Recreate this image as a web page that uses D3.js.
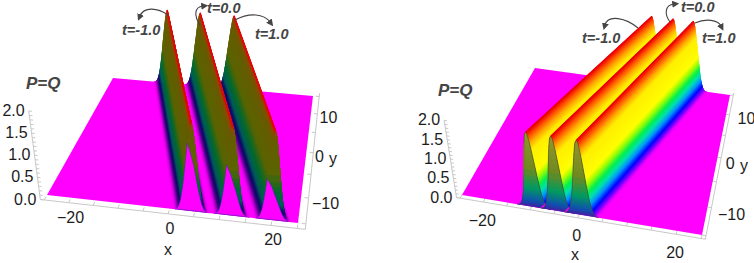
<!DOCTYPE html>
<html>
<head>
    <meta charset="UTF-8">
    <title>P=Q surfaces</title>
    <style>
        html, body { margin: 0; padding: 0; background: #fff; }
        svg { display: block; }
    </style>
</head>
<body>
    <div id="graph-container"></div>
    <script src="https://cdn.jsdelivr.net/npm/d3@7"></script>
    <script>
        // values
        const profileOffsets = [0, .125, .25, .375, .5, .625, .75, .875, 1, 1.125, 1.25, 1.375, 1.5, 1.6, 1.7, 1.8, 1.9, 2, 2.08, 2.16, 2.25, 2.35, 2.47, 2.55, 2.65, 2.78, 2.9, 3.05, 3.2, 3.6];
        const profileHeights = [1.95, 1.93, 1.89, 1.82, 1.72, 1.61, 1.49, 1.36, 1.23, 1.1, .97, .82, .72, .62, .53, .45, .38, .32, .27, .23, .19, .15, .11, .085, .065, .045, .03, .017, .01, 0];
        const timeLabels = ["t=-1.0", "t=0.0", "t=1.0"];
        const ridgeFrontLeft = [4.3, 12.2, 20.2];
        const ridgeBackLeft = [-11, -3.2, 4.8];
        const ridgeFrontRight = [-9.5, -4.5, 0.5];
        const ridgeBackRight = [5.8, 11, 15.8];
        const xTicks = [-20, 0, 20];
        const xMinorTicks = [-25, -20, -15, -10, -5, 0, 5, 10, 15, 20, 25];
        const yTicks = [-10, 0, 10];
        const yMinorTicks = [-15, -10, -5, 0, 5, 10, 15];
        const zTicks = [0, 0.5, 1, 1.5, 2];
        const zMinorTicks = [0, .1, .2, .3, .4, .5, .6, .7, .8, .9, 1, 1.1, 1.2, 1.3, 1.4, 1.5, 1.6, 1.7, 1.8, 1.9, 2];
        // the magenta arches under the three front ends of the left panel
        const archOffsets1 = [-3.2, -2.65, -2.47, -2.25, -2.08, -1.8, -1.6, -1.375, -1.125, -.875, -.75, -.2, .5, 1, 1.5, 2.05, 2.5, 3];
        const archHeights1 = [.01, .065, .11, .19, .27, .45, .62, .82, 1.1, 1.36, 1.49, 1.3, 1, .68, .4, .17, .05, .01];
        const archOffsets2 = [-3.2, -2.65, -2.47, -2.25, -2.08, -1.8, -1.6, -1.375, -1.125, -.3, .2, .8, 1.3, 1.8, 2.3, 2.9];
        const archHeights2 = [.01, .065, .11, .19, .27, .45, .62, .82, 1.1, .9, .72, .52, .33, .16, .05, .01];
        const archOffsets3 = [-3.2, -2.65, -2.47, -2.25, -2.08, -1.8, -1.6, -1.375, -1.3, -.4, .1, .7, 1.2, 1.7, 2.2, 2.9];
        const archHeights3 = [.01, .065, .11, .19, .27, .45, .62, .82, .88, .72, .58, .42, .28, .15, .06, .01];

        const darkStops = [0, .03, .08, .18, .35, .6, 1, 1.7, 1.88, 1.95];
        const darkColors = ["#ff00ff", "#b000c8", "#50008c", "#0a0a64", "#005a5a", "#006a30", "#5a6400", "#665c00", "#8a4a00", "#f00000"];
        const rainbowStops = [0, .05, .15, .3, .45, .6, .8, .95, 1.5, 1.68, 1.83, 1.95];
        const rainbowColors = ["#ff00ff", "#8000ff", "#0000ff", "#0090ff", "#00e0b0", "#00f050", "#a0ff00", "#ffff00", "#ffee00", "#ffa800", "#ff5000", "#ee0000"];
        const innerStops = [0, .15, .5, 1, 1.95];
        const innerColors = ["#4020a0", "#1050b0", "#009a60", "#6e8a20", "#9a9428"];

        const archOffsets = [archOffsets1, archOffsets2, archOffsets3];
        const archHeights = [archHeights1, archHeights2, archHeights3];

        const svg = d3.select("#graph-container").append("svg")
            .attr("width", 754)
            .attr("height", 263);

        // unit square -> quad, corners in order (0,0) (1,0) (1,1) (0,1)
        function homography(q) {
            const dx1 = q[1][0] - q[2][0], dx2 = q[3][0] - q[2][0], sx = q[0][0] - q[1][0] + q[2][0] - q[3][0];
            const dy1 = q[1][1] - q[2][1], dy2 = q[3][1] - q[2][1], sy = q[0][1] - q[1][1] + q[2][1] - q[3][1];
            const det = dx1 * dy2 - dx2 * dy1;
            const g = (sx * dy2 - dx2 * sy) / det, h = (dx1 * sy - sx * dy1) / det;
            const a = q[1][0] - q[0][0] + g * q[1][0], b = q[3][0] - q[0][0] + h * q[3][0], c = q[0][0];
            const d = q[1][1] - q[0][1] + g * q[1][1], e = q[3][1] - q[0][1] + h * q[3][1], f = q[0][1];
            return (u, v) => {
                const w = g * u + h * v + 1;
                return [(a * u + b * v + c) / w, (d * u + e * v + f) / w];
            };
        }

        const poly = d3.line();
        const SUB = 4;  // polygons per profile step, only to smooth the colour

        function drawPanel(p) {
            const g = svg.append("g");
            const sx = d3.scaleLinear().domain([-25, 25]).range([0, 1]);
            const sy = d3.scaleLinear().domain([-15, 15]).range([0, 1]);
            const sz = d3.scaleLinear().domain([0, 2]).range([0, 1]);
            const floorH = homography(p.floor);
            const topH = homography(p.top);
            const pt = (x, y, z) => {
                const a = floorH(sx(x), sy(y)), b = topH(sx(x), sy(y)), t = sz(z);
                return [a[0] + (b[0] - a[0]) * t, a[1] + (b[1] - a[1]) * t];
            };
            const faceColor = d3.scaleLinear().domain(p.stops).range(p.colors);
            const innerColor = d3.scaleLinear().domain(innerStops).range(innerColors);

            // axes box
            const xa = p.box[0], xb = p.box[1], ya = p.box[2], yb = p.box[3];
            const axis = g.append("g").attr("stroke", "#c8c8c8").attr("fill", "none").attr("stroke-width", 1);
            axis.append("path").attr("d", poly([pt(xa, ya, 2), pt(xa, ya, 0), pt(xb, ya, 0), pt(xb, yb, 0)]));
            xMinorTicks.forEach(v => axis.append("path").attr("d", poly([pt(v, ya, 0), pt(v, ya + 0.7, 0)])));
            yMinorTicks.forEach(v => axis.append("path").attr("d", poly([pt(xb, v, 0), pt(xb - 0.8, v, 0)])));
            zMinorTicks.forEach(v => axis.append("path").attr("d", poly([pt(xa, ya, v), pt(xa + 0.6, ya, v)])));

            // floor
            g.append("path")
                .attr("d", poly([pt(-25, -15, 0), pt(25, -15, 0), pt(25, 15, 0), pt(-25, 15, 0)]) + "Z")
                .attr("fill", "#ff00ff");

            // profile split finer for the colour, crest first
            const fine = [];
            d3.range(profileOffsets.length - 1).forEach(k => {
                d3.range(SUB).forEach(s => {
                    const t = s / SUB;
                    fine.push([
                        profileOffsets[k] + (profileOffsets[k + 1] - profileOffsets[k]) * t,
                        profileHeights[k] + (profileHeights[k + 1] - profileHeights[k]) * t
                    ]);
                });
            });
            fine.push([profileOffsets[profileOffsets.length - 1], 0]);

            const order = p.flip ? [2, 1, 0] : [0, 1, 2];
            order.forEach(i => {
                const front = p.ridgeFront[i], back = p.ridgeBack[i];
                // foot to crest, each polygon runs under the next to hide the seams
                const drawFace = sign => {
                    d3.range(fine.length - 2, -1, -1).forEach(j => {
                        const a = fine[j + 1], b = fine[Math.max(j - 2, 0)];
                        const c = faceColor((fine[j][1] + fine[j + 1][1]) / 2);
                        g.append("path")
                            .attr("d", poly([pt(front + sign * a[0], -15, a[1]), pt(back + sign * a[0], 15, a[1]), pt(back + sign * b[0], 15, b[1]), pt(front + sign * b[0], -15, b[1])]) + "Z")
                            .attr("fill", c);
                    });
                };
                // the hidden side first
                drawFace(p.flip ? 1 : -1);
                drawFace(p.flip ? -1 : 1);

                // opening at the front end
                d3.range(profileOffsets.length - 2, -1, -1).forEach(k => {
                    const o0 = profileOffsets[Math.max(k - 1, 0)], o1 = profileOffsets[k + 1];
                    const z0 = profileHeights[Math.max(k - 1, 0)], z1 = profileHeights[k + 1];
                    const zm = (profileHeights[k] + z1) / 2;
                    g.append("path")
                        .attr("d", poly([pt(front - o0, -15, z0), pt(front + o0, -15, z0), pt(front + o1, -15, z1), pt(front - o1, -15, z1)]) + "Z")
                        .attr("fill", p.flip ? faceColor(zm) : innerColor(zm));
                });
                if (p.flip) {
                    g.append("path")
                        .attr("d", poly(archOffsets[i].map((o, k) => pt(front + o, -15, archHeights[i][k]))) + "Z")
                        .attr("fill", "#ff00ff").attr("stroke", "#3030a0").attr("stroke-width", 0.5);
                } else {
                    g.append("path")
                        .attr("d", poly(profileOffsets.map((o, k) => pt(front + o, -15, profileHeights[k]))))
                        .attr("fill", "none").attr("stroke", "#3a4a30").attr("stroke-width", 0.6);
                    g.append("path")
                        .attr("d", poly(profileOffsets.map((o, k) => pt(front - o, -15, profileHeights[k]))))
                        .attr("fill", "none").attr("stroke", "#3a4a30").attr("stroke-width", 0.6);
                }

                // crest
                g.append("path")
                    .attr("d", poly([pt(front, -15, profileHeights[0]), pt(back, 15, profileHeights[0])]))
                    .attr("stroke", "#e8000c").attr("stroke-width", 1.2).attr("fill", "none");
            });

            // tick labels
            const lab = g.append("g").attr("font-family", "Liberation Sans, Arial, sans-serif")
                .attr("font-size", 16).attr("fill", "#1c1c1c");
            xTicks.forEach(v => {
                const a = pt(v, ya, 0);
                lab.append("text").attr("x", a[0] + p.xOff[0]).attr("y", a[1] + p.xOff[1])
                    .attr("text-anchor", "middle").text(v < 0 ? "\u2212" + (-v) : v);
            });
            yTicks.forEach((v, i) => {
                const a = pt(xb, v, 0);
                lab.append("text").attr("x", a[0] + p.yOff[i][0]).attr("y", a[1] + p.yOff[i][1])
                    .attr("text-anchor", "middle").text(v < 0 ? "\u2212" + (-v) : v);
            });
            zTicks.forEach(v => {
                const a = pt(xa, ya, v);
                lab.append("text").attr("x", a[0] - 4).attr("y", a[1] + 5)
                    .attr("text-anchor", "end").text(d3.format(".1f")(v));
            });
            lab.append("text").attr("x", p.xName[0]).attr("y", p.xName[1]).attr("text-anchor", "middle").text("x");
            lab.append("text").attr("x", p.yName[0]).attr("y", p.yName[1]).attr("text-anchor", "middle").text("y");

            // annotations
            const note = g.append("g").attr("font-family", "Liberation Sans, Arial, sans-serif")
                .attr("font-weight", "bold").attr("font-style", "italic").attr("fill", "#454545");
            note.append("text").attr("x", p.pq[0]).attr("y", p.pq[1]).attr("font-size", 17).text("P=Q");
            timeLabels.forEach((t, i) => {
                note.append("text").attr("x", p.notes[i][0]).attr("y", p.notes[i][1])
                    .attr("font-size", 14.5).text(t);
                g.append("path").attr("d", p.arrows[i]).attr("fill", "none")
                    .attr("stroke", "#454545").attr("stroke-width", 1.1)
                    .attr("marker-end", "url(#head)");
            });
        }

        svg.append("defs").append("marker")
            .attr("id", "head").attr("viewBox", "0 0 8 8")
            .attr("refX", 2).attr("refY", 4)
            .attr("markerWidth", 7).attr("markerHeight", 7)
            .attr("markerUnits", "userSpaceOnUse")
            .attr("orient", "auto")
            .append("path").attr("d", "M0,0L8,4L0,8Z").attr("fill", "#454545");

        drawPanel({
            flip: true,
            floor: [[47, 195], [298, 223], [313, 96], [113, 78]],
            top: [[36, 107], [301, 130], [320, 21], [108, 3]],
            box: [-25.8, 26.5, -16, 16],
            ridgeFront: ridgeFrontLeft,
            ridgeBack: ridgeBackLeft,
            stops: darkStops,
            colors: darkColors,
            xOff: [2, 20],
            yOff: [[17, 11], [6, 9], [11, 9]],
            xName: [168, 255],
            yName: [333, 164],
            pq: [26, 89],
            notes: [[122, 35], [207, 13], [255, 39]],
            arrows: ["M168,15C158,8 144,6 140,16", "M200,25C194,16 194,7 203,6", "M235,20C250,12 264,14 270,22"]
        });

        drawPanel({
            flip: false,
            floor: [[462, 195], [702, 235], [730, 95], [535, 68]],
            top: [[450, 118], [708, 160], [733, 24], [530, 0]],
            box: [-25.8, 25.8, -15.6, 15.6],
            ridgeFront: ridgeFrontRight,
            ridgeBack: ridgeBackRight,
            stops: rainbowStops,
            colors: rainbowColors,
            xOff: [-1, 23.5],
            yOff: [[20, 12], [9, 11], [17, 9]],
            xName: [575, 260],
            yName: [744, 171],
            pq: [438, 96],
            notes: [[582, 43], [681, 12], [702, 43]],
            arrows: ["M638,28C626,18 608,14 605,25", "M670,22C664,14 665,5 674,4", "M695,23C706,18 718,20 721,26"]
        });
    </script>
</body>
</html>
